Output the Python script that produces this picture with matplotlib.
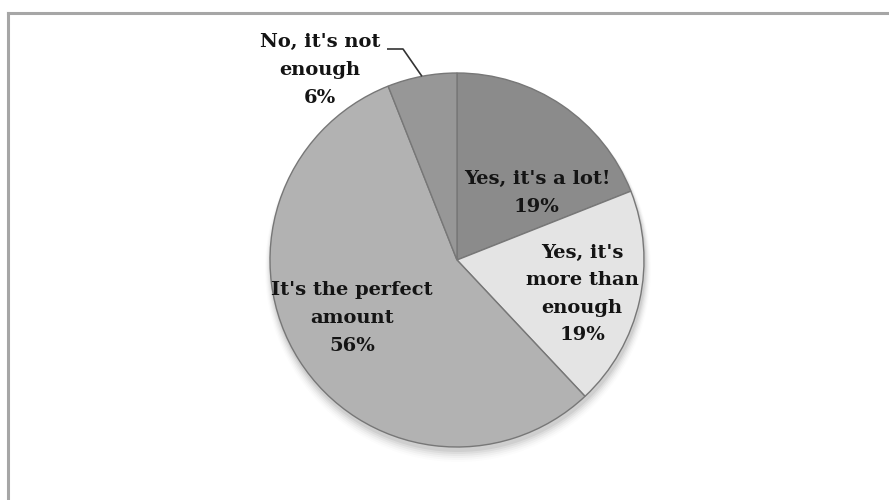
import matplotlib
matplotlib.use("Agg")
import matplotlib.pyplot as plt
import numpy as np

categories = ["Yes, it's a lot!", "Yes, it's\nmore than\nenough", "It's the perfect\namount", "No, it's not\nenough"]
values = [19, 19, 56, 6]
colors = ["#8b8b8b", "#e4e4e4", "#b2b2b2", "#979797"]

W, H = 889, 500
fig = plt.figure(figsize=(W / 100, H / 100), dpi=100)
ax = fig.add_axes([0, 0, 1, 1])
ax.set_xlim(0, W)
ax.set_ylim(0, H)
ax.set_aspect("equal")
ax.axis("off")

cx, cy, R = 457, 240, 187

# soft shadow
for i, a in enumerate(np.linspace(0.05, 0.01, 6)):
    sh = plt.Circle((cx + 1, cy - 4 - i), R + 1 + i, color="black", alpha=a, lw=0, zorder=0)
    ax.add_patch(sh)

wedges, _ = ax.pie(values, colors=colors, startangle=90, counterclock=False,
                   center=(cx, cy), radius=R,
                   wedgeprops=dict(edgecolor="#777777", linewidth=1.0))
for w in wedges:
    w.set_zorder(2)
ax.set_xlim(0, W)
ax.set_ylim(0, H)

font = dict(family="DejaVu Serif", weight="bold", fontsize=14, color="#141414",
            ha="center", va="center", linespacing=1.68, zorder=5)

labels = [f"{c}\n{v}%" for c, v in zip(categories, values)]
label_pos = [(537, 500 - 193), (582, 500 - 294), (352, 500 - 318), (320, 500 - 70)]
for lab, (x, y) in zip(labels, label_pos):
    ax.text(x, y, lab, **font)

# leader line for the small slice
w = wedges[3]
mid = np.deg2rad((w.theta1 + w.theta2) / 2)
px, py = cx + R * np.cos(mid), cy + R * np.sin(mid)
ax.plot([387, 403, px], [451, 451, py], color="#333333", lw=1.2, zorder=6,
        solid_capstyle="butt")

# chart frame (top and left edges visible)
ax.plot([8, W], [H - 13, H - 13], color="#a6a6a6", lw=2.2, zorder=1)
ax.plot([8, 8], [0, H - 13], color="#a6a6a6", lw=2.2, zorder=1)

fig.savefig("out.png", dpi=100)
